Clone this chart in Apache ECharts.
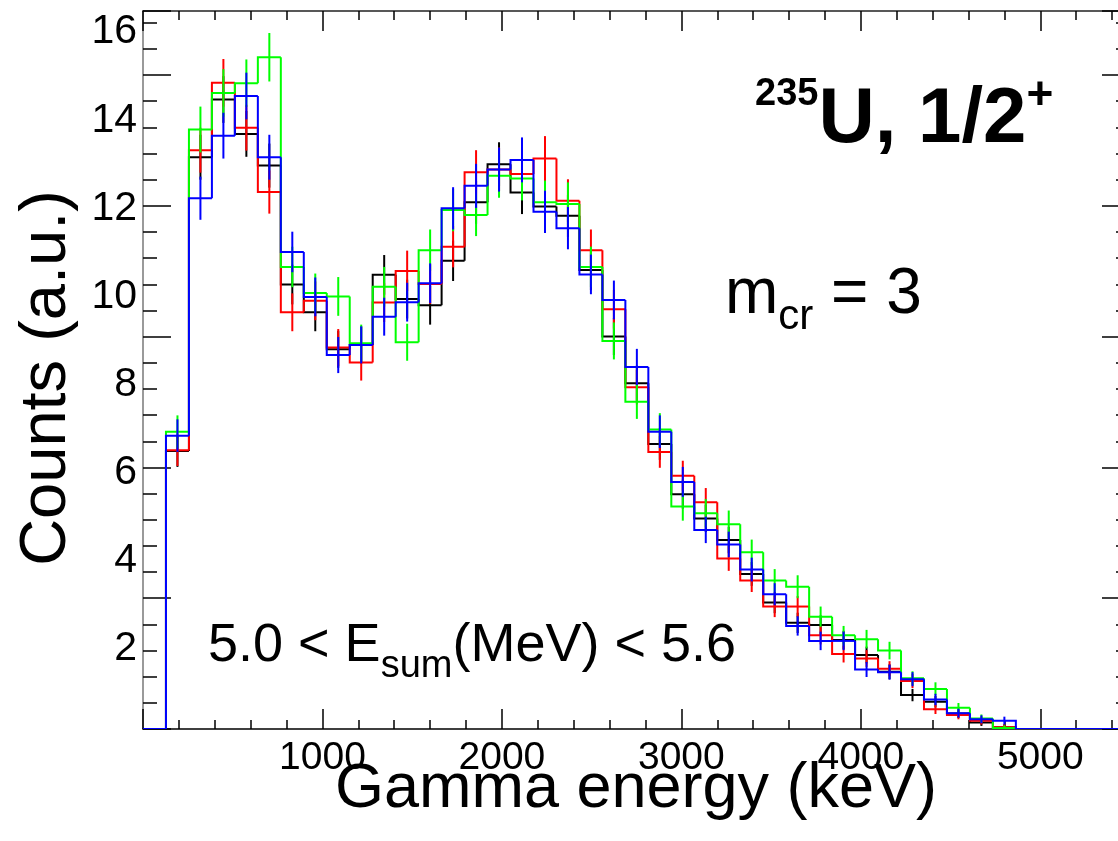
<!DOCTYPE html>
<html>
<head>
<meta charset="utf-8">
<script src="https://cdn.jsdelivr.net/npm/echarts@6/dist/echarts.min.js"></script>
<style>
  html, body { margin: 0; padding: 0; background: #fff; }
  #chart { width: 1118px; height: 841px; }
</style>
</head>
<body>
<div id="chart"></div>
<script>
// Gamma-energy spectra for four cascade calculations (235U, 1/2+ resonance, m_cr = 3)

// Lower edges of the 128 keV energy bins (keV)
const binLow = [128, 256, 384, 512, 640, 768, 896, 1024, 1152, 1280, 1408, 1536, 1664,
  1792, 1920, 2048, 2176, 2304, 2432, 2560, 2688, 2816, 2944, 3072, 3200, 3328, 3456,
  3584, 3712, 3840, 3968, 4096, 4224, 4352, 4480, 4608, 4736];
const BIN_WIDTH = 128;

// Bin contents (a.u.) and their statistical errors
const blackCounts = [6.49, 13.16, 14.47, 13.69, 12.97, 10.27, 9.64, 8.80, 8.90, 10.49, 9.94, 9.80,
  10.81, 12.14, 13.00, 12.36, 12.04, 11.83, 10.60, 9.09, 8.03, 6.65, 5.51, 4.96, 4.47, 3.70, 3.05,
  2.59, 2.54, 2.20, 1.86, 1.48, 0.95, 0.80, 0.53, 0.33, 0.22];
const blackErrors = [0.36, 0.51, 0.53, 0.52, 0.50, 0.45, 0.43, 0.42, 0.42, 0.45, 0.44, 0.44,
  0.46, 0.49, 0.50, 0.49, 0.49, 0.48, 0.46, 0.42, 0.40, 0.36, 0.33, 0.31, 0.30, 0.27, 0.24,
  0.23, 0.22, 0.21, 0.19, 0.17, 0.14, 0.13, 0.10, 0.08, 0.07];

const redCounts = [6.51, 13.32, 14.85, 13.83, 12.37, 9.64, 9.90, 8.84, 8.50, 9.86, 10.58, 10.28,
  11.13, 12.82, 12.88, 12.78, 13.13, 12.17, 11.05, 9.71, 7.94, 6.47, 5.93, 5.33, 4.05, 3.55, 2.96,
  2.96, 2.31, 1.88, 1.78, 1.55, 1.27, 0.63, 0.50, 0.37, 0.22];
const redErrors = [0.36, 0.51, 0.54, 0.52, 0.49, 0.43, 0.44, 0.42, 0.41, 0.44, 0.46, 0.45,
  0.47, 0.50, 0.50, 0.50, 0.51, 0.49, 0.47, 0.44, 0.39, 0.36, 0.34, 0.32, 0.28, 0.26, 0.24,
  0.24, 0.21, 0.19, 0.19, 0.17, 0.16, 0.11, 0.10, 0.09, 0.07];

const greenCounts = [6.93, 13.79, 14.62, 14.84, 15.43, 10.67, 10.08, 10.00, 8.94, 10.22, 8.96, 11.05,
  11.96, 11.85, 12.74, 12.68, 12.14, 12.10, 10.67, 8.99, 7.61, 6.98, 5.23, 5.08, 4.83, 4.19, 3.55,
  3.41, 2.73, 2.31, 2.22, 1.96, 1.33, 1.09, 0.66, 0.42, 0.20];
const greenErrors = [0.37, 0.52, 0.54, 0.54, 0.55, 0.46, 0.44, 0.44, 0.42, 0.45, 0.42, 0.47,
  0.48, 0.48, 0.50, 0.50, 0.49, 0.49, 0.46, 0.42, 0.39, 0.37, 0.32, 0.32, 0.31, 0.29, 0.26,
  0.26, 0.23, 0.21, 0.21, 0.20, 0.16, 0.15, 0.11, 0.09, 0.06];

const blueCounts = [6.84, 12.23, 13.65, 14.55, 13.16, 11.01, 9.99, 8.67, 8.90, 9.54, 9.87, 10.30,
  12.00, 12.51, 12.88, 13.10, 11.92, 11.55, 10.50, 9.92, 8.40, 6.93, 5.79, 4.70, 4.37, 3.80, 3.24,
  2.52, 2.18, 2.18, 1.53, 1.47, 1.31, 0.85, 0.54, 0.40, 0.37];
const blueErrors = [0.37, 0.49, 0.52, 0.53, 0.51, 0.46, 0.44, 0.41, 0.42, 0.43, 0.44, 0.45,
  0.48, 0.50, 0.50, 0.51, 0.48, 0.48, 0.45, 0.44, 0.41, 0.37, 0.34, 0.30, 0.29, 0.27, 0.25,
  0.22, 0.21, 0.21, 0.17, 0.17, 0.16, 0.13, 0.10, 0.09, 0.09];

// Axis tick labels
const xTickLabels = [1000, 2000, 3000, 4000, 5000];
const yTickLabels = [2, 4, 6, 8, 10, 12, 14, 16];

const X_MIN = 0, X_MAX = 5500;
const Y_MIN = 0.18, Y_MAX = 16.48;
const FONT = '"Liberation Sans", Arial, Helvetica, sans-serif';

const chart = echarts.init(document.getElementById('chart'), null, { renderer: 'canvas' });

// Step histogram with a vertical error bar at each bin centre
function histSeries(name, color, counts, errors, z) {
  return {
    type: 'custom',
    name: name,
    z: z,
    clip: true,
    xAxisIndex: 0,
    yAxisIndex: 0,
    encode: { x: [0, 1], y: 2 },
    data: counts.map((v, i) => [binLow[i], binLow[i] + BIN_WIDTH, v, errors[i]]),
    renderItem: function (params, api) {
      const i = params.dataIndex;
      const lo = api.value(0), hi = api.value(1), v = api.value(2), e = api.value(3);
      const pts = [];
      if (i === 0) {
        pts.push([X_MIN, Y_MIN], [lo, Y_MIN]);
      } else {
        pts.push([lo, counts[i - 1]]);
      }
      pts.push([lo, v], [hi, v]);
      if (i === counts.length - 1) {
        pts.push([hi, Y_MIN], [X_MAX, Y_MIN]);
      }
      const mid = (lo + hi) / 2;
      const top = api.coord([mid, v + e]);
      const bot = api.coord([mid, Math.max(v - e, Y_MIN)]);
      return {
        type: 'group',
        children: [
          {
            type: 'polyline',
            shape: { points: pts.map(p => api.coord(p)) },
            style: { stroke: color, lineWidth: 2, fill: null }
          },
          {
            type: 'line',
            shape: { x1: top[0], y1: top[1], x2: bot[0], y2: bot[1] },
            style: { stroke: color, lineWidth: 2 }
          }
        ]
      };
    }
  };
}

// Text made of pieces with their own size and baseline (sub/superscripts)
const measureCtx = document.createElement('canvas').getContext('2d');
function textRun(x, baseline, pieces) {
  const out = [];
  let cx = x;
  pieces.forEach(p => {
    const weight = p.bold ? 'bold' : 'normal';
    const font = weight + ' ' + p.size + 'px ' + FONT;
    measureCtx.font = font;
    const w = measureCtx.measureText(p.text).width;
    out.push({
      type: 'text',
      x: cx,
      y: baseline + (p.dy || 0) - 0.35 * p.size,
      style: {
        text: p.text,
        fill: '#000',
        fontFamily: FONT,
        fontSize: p.size,
        fontWeight: weight,
        align: 'left',
        verticalAlign: 'middle'
      },
      z: 10
    });
    cx += w;
  });
  return out;
}

const tickStyle = { color: '#000', width: 1.5 };

const option = {
  animation: false,
  backgroundColor: '#fff',
  grid: { left: 143, top: 11, width: 987, height: 718, outerBoundsMode: 'none', containLabel: false },
  xAxis: [
    {
      type: 'value', min: X_MIN, max: X_MAX, interval: 1000, position: 'bottom',
      axisLine: { show: true, onZero: false, lineStyle: { color: '#000', width: 1.5 } },
      axisTick: { show: true, inside: true, length: 20, lineStyle: tickStyle },
      minorTick: { show: true, splitNumber: 5, length: 9, lineStyle: tickStyle },
      axisLabel: {
        customValues: xTickLabels, color: '#000', fontSize: 39, fontFamily: FONT, margin: 10,
        formatter: v => String(v)
      },
      splitLine: { show: false }
    },
    {
      type: 'value', min: X_MIN, max: X_MAX, interval: 1000, position: 'top',
      axisLine: { show: true, onZero: false, lineStyle: { color: '#222', width: 1.5 } },
      axisTick: { show: true, inside: true, length: 20, lineStyle: tickStyle },
      minorTick: { show: true, splitNumber: 5, length: 9, lineStyle: tickStyle },
      axisLabel: { show: false },
      splitLine: { show: false }
    }
  ],
  yAxis: [
    {
      type: 'value', min: Y_MIN, max: Y_MAX, position: 'left', offset: 0,
      axisLine: { show: true, onZero: false, lineStyle: { color: '#9a9a9a', width: 2 } },
      axisTick: { show: false },
      axisLabel: {
        customValues: yTickLabels, color: '#000', fontSize: 41, fontFamily: FONT, margin: 6,
        formatter: v => String(v)
      },
      splitLine: { show: false }
    },
    {
      type: 'value', min: 0, max: 5.49, interval: 1, position: 'left', offset: 0,
      axisLine: { show: false },
      axisTick: { show: true, inside: true, length: 28, lineStyle: tickStyle },
      minorTick: { show: true, splitNumber: 5, length: 14, lineStyle: tickStyle },
      axisLabel: { show: false },
      splitLine: { show: false }
    },
    {
      type: 'value', min: 0, max: 5.49, interval: 1, position: 'right', offset: 0,
      axisLine: { show: true, onZero: false, lineStyle: { color: '#000', width: 1.5 } },
      axisTick: { show: true, inside: true, length: 28, lineStyle: tickStyle },
      minorTick: { show: true, splitNumber: 5, length: 14, lineStyle: tickStyle },
      axisLabel: { show: false },
      splitLine: { show: false }
    }
  ],
  series: [
    histSeries('black', '#000000', blackCounts, blackErrors, 2),
    histSeries('red', '#ff0000', redCounts, redErrors, 3),
    histSeries('green', '#00ff00', greenCounts, greenErrors, 4),
    histSeries('blue', '#0000ff', blueCounts, blueErrors, 5)
  ],
  graphic: [
    {
      type: 'text', x: 47, y: 378, rotation: Math.PI / 2,
      style: {
        text: 'Counts (a.u.)', fill: '#000', fontFamily: FONT, fontSize: 65,
        align: 'center', verticalAlign: 'middle'
      }
    },
    {
      type: 'text', x: 636, y: 790,
      style: {
        text: 'Gamma energy (keV)', fill: '#000', fontFamily: FONT, fontSize: 63,
        align: 'center', verticalAlign: 'middle'
      }
    }
  ]
    .concat(textRun(755, 148, [
      { text: '235', size: 38, bold: true, dy: -40 },
      { text: 'U, 1/2', size: 78, bold: true },
      { text: '+', size: 46, bold: true, dy: -36 }
    ]))
    .concat(textRun(725, 318, [
      { text: 'm', size: 64 },
      { text: 'cr', size: 42, dy: 14 },
      { text: ' = 3', size: 64 }
    ]))
    .concat(textRun(208, 665, [
      { text: '5.0 < E', size: 54 },
      { text: 'sum', size: 38, dy: 15 },
      { text: '(MeV) < 5.6', size: 54 }
    ]))
};

chart.setOption(option);
</script>
</body>
</html>
